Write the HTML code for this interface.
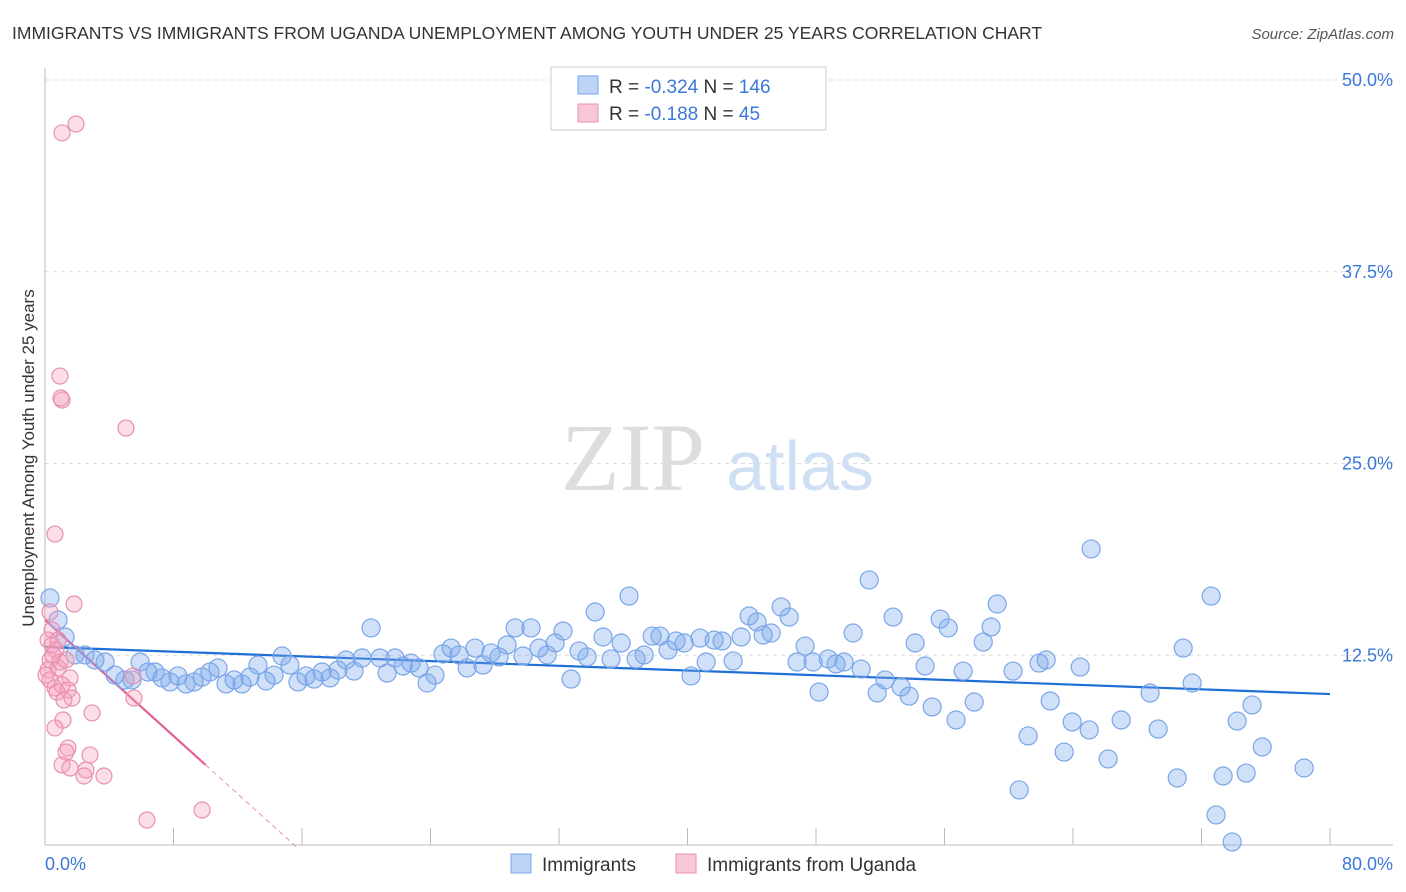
<!DOCTYPE html>
<html><head><meta charset="utf-8"><style>
body{margin:0;background:#fff;font-family:"Liberation Sans",sans-serif;}
svg{display:block}
</style></head><body>
<svg id="chart" width="1406" height="892">
<text x="12" y="39" font-size="17.5" fill="#333">IMMIGRANTS VS IMMIGRANTS FROM UGANDA UNEMPLOYMENT AMONG YOUTH UNDER 25 YEARS CORRELATION CHART</text>
<text x="1394" y="39" font-size="15" fill="#555" font-style="italic" text-anchor="end">Source: ZipAtlas.com</text>
<text x="0" y="0" transform="translate(34,458) rotate(-90)" font-size="17" fill="#333" text-anchor="middle">Unemployment Among Youth under 25 years</text>
<g>
<text x="633" y="490" font-size="96" fill="#ddd" font-family="Liberation Serif,serif" text-anchor="middle">ZIP</text>
<text x="800" y="490" font-size="70" fill="#cfe0f5" text-anchor="middle">atlas</text>
</g>
<g id="grid"></g><g id="axes"></g><g id="trends"></g><g id="pts"></g>
<g>
<rect x="551" y="67" width="275" height="63" fill="#fff" stroke="#ccc"/>
<rect x="578" y="76" width="20" height="18" fill="#bcd4f6" stroke="#7aa6e8"/>
<rect x="578" y="104" width="20" height="18" fill="#f9c8d8" stroke="#e890b0"/>
<text x="609" y="93" font-size="19" fill="#333">R = <tspan fill="#3b78d8">-0.324</tspan>   N = <tspan fill="#3b78d8">146</tspan></text>
<text x="609" y="120" font-size="19" fill="#333">R =  <tspan fill="#3b78d8">-0.188</tspan>   N =  <tspan fill="#3b78d8">45</tspan></text>
</g>
<g>
<rect x="511" y="854" width="20" height="19" fill="#bcd4f6" stroke="#7aa6e8"/>
<text x="542" y="871" font-size="19" fill="#333">Immigrants</text>
<rect x="676" y="854" width="20" height="19" fill="#f9c8d8" stroke="#e890b0"/>
<text x="707" y="871" font-size="19" fill="#333">Immigrants from Uganda</text>
</g>
</svg>
<script>
const yTicks=[12.5,25,37.5,50];
const yTickLabels=["12.5%","25.0%","37.5%","50.0%"];
const xTicks=[0,8,16,24,32,40,48,56,64,72,80];
const blueX=[0.31,0.81,1.25,1.87,2.49,3.11,3.74,4.36,4.98,5.42,5.92,6.41,6.85,7.29,7.78,8.28,8.78,9.28,9.78,10.27,10.77,11.27,11.77,12.27,12.76,13.26,13.76,14.26,14.76,15.25,15.75,16.25,16.75,17.25,17.75,18.24,18.74,19.24,19.74,20.30,20.86,21.30,21.79,22.29,22.79,23.29,23.79,24.28,24.78,25.28,25.78,26.28,26.77,27.27,27.77,28.27,28.77,29.27,29.76,30.26,30.76,31.26,31.76,32.25,32.75,33.25,33.75,34.25,34.74,35.24,35.87,36.36,36.80,37.30,37.80,38.29,38.79,39.29,39.79,40.22,40.78,41.16,41.66,42.15,42.84,43.34,43.84,44.33,44.71,45.21,45.83,46.33,46.82,47.32,47.82,48.19,48.76,49.25,49.75,50.31,50.81,51.31,51.81,52.30,52.80,53.30,53.80,54.17,54.79,55.23,55.73,56.23,56.72,57.16,57.85,58.41,58.90,59.28,60.27,60.65,61.21,61.89,62.33,62.58,63.45,63.95,64.45,65.01,65.13,66.19,67.00,68.80,69.30,70.49,70.86,71.42,72.60,72.91,73.35,73.91,74.22,74.78,75.15,75.78,78.39];
const blueY=[16.23,14.80,13.69,12.52,12.52,12.19,12.06,11.21,10.89,10.89,12.06,11.41,11.41,11.02,10.76,11.15,10.63,10.76,11.08,11.41,11.67,10.63,10.89,10.63,11.08,11.86,10.82,11.21,12.45,11.86,10.76,11.15,10.95,11.41,11.02,11.54,12.19,11.47,12.32,14.28,12.32,11.34,12.32,11.80,11.99,11.67,10.69,11.21,12.58,12.97,12.52,11.67,12.97,11.86,12.65,12.39,13.17,14.28,12.45,14.28,12.97,12.52,13.30,14.08,10.95,12.78,12.39,15.32,13.69,12.26,13.30,16.36,12.26,12.52,13.75,13.75,12.84,13.43,13.30,11.15,13.62,12.06,13.49,13.43,12.13,13.69,15.06,14.67,13.82,13.95,15.65,14.99,12.06,13.10,12.06,10.10,12.26,11.93,12.06,13.95,11.60,17.41,10.04,10.89,14.99,10.43,9.84,13.30,11.80,9.13,14.86,14.28,8.28,11.47,9.45,13.36,14.34,15.84,11.47,3.72,7.24,11.99,12.19,9.52,6.19,8.15,11.73,7.63,19.43,5.74,8.28,10.04,7.69,4.50,12.97,10.69,16.36,2.09,4.63,0.33,8.21,4.82,9.26,6.52,5.15];
const pinkX=[1.06,1.93,0.93,1.06,0.99,5.04,0.62,1.81,0.19,0.44,0.68,0.31,0.93,0.19,0.81,1.56,0.31,0.62,1.06,1.43,1.68,0.75,1.12,0.62,2.93,5.54,5.48,1.43,1.31,2.80,1.06,1.56,2.55,3.67,2.43,6.35,9.78,0.31,0.44,0.81,0.50,1.18,0.06,1.31];
const pinkY=[46.55,47.13,30.70,29.14,29.27,27.31,20.40,15.84,13.49,13.17,12.84,12.19,12.06,11.54,11.67,11.02,10.89,10.37,10.56,10.23,9.71,10.10,8.28,7.76,8.74,9.71,11.15,6.45,6.19,6.00,5.35,5.15,5.02,4.63,4.63,1.76,2.41,15.32,14.15,13.49,12.52,9.58,11.21,12.19];
const blueTrend=[13.04,9.97];
const pinkTrend=[14.8,5.35];
const NS="http://www.w3.org/2000/svg";
const X=v=>45+v*(1285/80), Y=v=>847-v*15.34;
function mk(tag,attrs,parent){const e=document.createElementNS(NS,tag);for(const k in attrs)e.setAttribute(k,attrs[k]);document.getElementById(parent).appendChild(e);return e;}
yTicks.forEach((t,i)=>{
 const g=mk('line',{x1:45,x2:1393,y1:Y(t),y2:Y(t),stroke:'#ddd','stroke-dasharray':'4,4'},'grid');
 
 
 const l=mk('text',{x:1393,y:Y(t)+6,'font-size':18,fill:'#3b78d8','text-anchor':'end'},'grid');
 l.textContent=yTickLabels[i];
 
 
});
const ax=mk('line',{x1:45,x2:45,y1:68,y2:845,stroke:'#bbb'},'axes');


const bx=mk('line',{x1:45,x2:1393,y1:845,y2:845,stroke:'#bbb'},'axes');


xTicks.forEach(t=>{const k=mk('line',{x1:X(t),x2:X(t),y1:828,y2:845,stroke:'#bbb'},'axes');
 
 });
const x0=mk('text',{x:45,y:870,'font-size':18,fill:'#3b78d8'},'axes');x0.textContent='0.0%';


const x1=mk('text',{x:1393,y:870,'font-size':18,fill:'#3b78d8','text-anchor':'end'},'axes');x1.textContent='80.0%';


blueX.forEach((v,i)=>{const c=mk('circle',{cx:X(v),cy:Y(blueY[i]),r:9,fill:'rgba(120,165,235,0.35)',stroke:'#7aa6e8','stroke-width':1.2},'pts');
 
 });
pinkX.forEach((v,i)=>{const c=mk('circle',{cx:X(v),cy:Y(pinkY[i]),r:8,fill:'rgba(245,160,190,0.35)',stroke:'#e890b0','stroke-width':1.2},'pts');
 
 });
const bt=mk('line',{x1:X(0),y1:Y(blueTrend[0]),x2:X(80),y2:Y(blueTrend[1]),stroke:'#1f6fd6','stroke-width':2.2},'trends');


const ps=(pinkTrend[1]-pinkTrend[0])/10, xz=-pinkTrend[0]/ps;
const pt=mk('line',{x1:X(0),y1:Y(pinkTrend[0]),x2:X(10),y2:Y(pinkTrend[1]),stroke:'#e0609a','stroke-width':2.2},'trends');


const pd=mk('line',{x1:X(10),y1:Y(pinkTrend[1]),x2:X(xz),y2:Y(0),stroke:'#e890b0','stroke-width':1,'stroke-dasharray':'5,4'},'trends');


</script>
</body></html>
